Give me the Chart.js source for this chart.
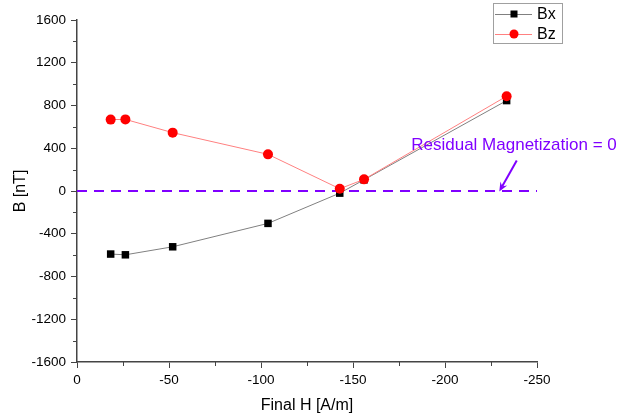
<!DOCTYPE html>
<html>
<head>
<meta charset="utf-8">
<script src="https://cdn.jsdelivr.net/npm/chart.js@4.4.1/dist/chart.umd.min.js"></script>
<style>
  html, body { margin: 0; padding: 0; background: #fff; }
  #wrap { width: 631px; height: 418px; }
</style>
</head>
<body>
<div id="wrap"><canvas id="chart" width="631" height="418"></canvas></div>
<script>
'use strict';

// data
const finalH = [-18.3, -26.3, -52, -103.8, -142.8, -156, -233.5];
const bxValues = [-590, -597, -522, -303, -20, 105, 846];
const bzValues = [668, 670, 546, 343, 21, 109, 887];
const zeroLineH = [0, -250];
const zeroLineB = [0, 0];
const xTicks = [0, -50, -100, -150, -200, -250];
const yTicks = [-1600, -1200, -800, -400, 0, 400, 800, 1200, 1600];

const violet = '#8000ff';
const axisColor = '#444';
const font = 'Liberation Sans, Arial, sans-serif';

function toPoints(xs, ys) {
  return xs.map((x, i) => ({ x: x, y: ys[i] }));
}

// minor ticks, legend box and the annotation
const extras = {
  id: 'extras',
  afterDraw(chart) {
    const ctx = chart.ctx;
    const xs = chart.scales.x;
    const ys = chart.scales.y;
    ctx.save();

    // minor ticks
    ctx.strokeStyle = axisColor;
    ctx.lineWidth = 1;
    ctx.beginPath();
    for (let v = -1400; v <= 1400; v += 400) {
      const py = Math.round(ys.getPixelForValue(v)) + 0.5;
      ctx.moveTo(xs.left - 4, py);
      ctx.lineTo(xs.left, py);
    }
    for (let v = -25; v >= -225; v -= 50) {
      const px = Math.round(xs.getPixelForValue(v)) + 0.5;
      ctx.moveTo(px, ys.bottom);
      ctx.lineTo(px, ys.bottom + 4);
    }
    ctx.stroke();

    // legend
    ctx.strokeStyle = '#a0a0a0';
    ctx.strokeRect(493.5, 3.5, 69, 40);
    const rows = [
      { label: 'Bx', line: '#808080', mark: '#000', square: true, y: 14 },
      { label: 'Bz', line: '#ff8080', mark: '#ff0000', square: false, y: 34 }
    ];
    ctx.font = '16px ' + font;
    ctx.textBaseline = 'middle';
    rows.forEach(r => {
      ctx.strokeStyle = r.line;
      ctx.beginPath();
      ctx.moveTo(495, r.y + 0.5);
      ctx.lineTo(532, r.y + 0.5);
      ctx.stroke();
      ctx.fillStyle = r.mark;
      if (r.square) {
        ctx.fillRect(510.5, r.y - 3.5, 7, 7);
      } else {
        ctx.beginPath();
        ctx.arc(514, r.y, 4.5, 0, Math.PI * 2);
        ctx.fill();
      }
      ctx.fillStyle = '#000';
      ctx.fillText(r.label, 537, r.y + 1);
    });

    // annotation
    ctx.fillStyle = violet;
    ctx.font = '17px ' + font;
    ctx.textAlign = 'center';
    ctx.textBaseline = 'alphabetic';
    ctx.fillText('Residual Magnetization = 0', xs.getPixelForValue(-237.5), ys.getPixelForValue(385));

    const x0 = xs.getPixelForValue(-239), y0 = ys.getPixelForValue(285);
    const x1 = xs.getPixelForValue(-229.5), y1 = ys.getPixelForValue(-5);
    const ang = Math.atan2(y1 - y0, x1 - x0);
    ctx.strokeStyle = violet;
    ctx.lineWidth = 2;
    ctx.beginPath();
    ctx.moveTo(x0, y0);
    ctx.lineTo(x1 - 6 * Math.cos(ang), y1 - 6 * Math.sin(ang));
    ctx.stroke();
    ctx.beginPath();
    ctx.moveTo(x1, y1);
    ctx.lineTo(x1 - 10 * Math.cos(ang - 0.4), y1 - 10 * Math.sin(ang - 0.4));
    ctx.lineTo(x1 - 6 * Math.cos(ang), y1 - 6 * Math.sin(ang));
    ctx.lineTo(x1 - 10 * Math.cos(ang + 0.4), y1 - 10 * Math.sin(ang + 0.4));
    ctx.closePath();
    ctx.fillStyle = violet;
    ctx.fill();

    ctx.restore();
  }
};

new Chart(document.getElementById('chart'), {
  type: 'line',
  data: {
    datasets: [
      {
        label: 'zero',
        data: toPoints(zeroLineH, zeroLineB),
        borderColor: violet,
        borderWidth: 2,
        borderDash: [10, 7],
        pointRadius: 0,
        order: 3
      },
      {
        label: 'Bx',
        data: toPoints(finalH, bxValues),
        borderColor: '#808080',
        borderWidth: 1,
        pointStyle: 'rect',
        pointRadius: 5.3,
        pointBackgroundColor: '#000',
        pointBorderColor: '#000',
        pointBorderWidth: 0,
        order: 2
      },
      {
        label: 'Bz',
        data: toPoints(finalH, bzValues),
        borderColor: '#ff8080',
        borderWidth: 1,
        pointStyle: 'circle',
        pointRadius: 5,
        pointBackgroundColor: '#ff0000',
        pointBorderColor: '#ff0000',
        pointBorderWidth: 0,
        order: 1
      }
    ]
  },
  options: {
    responsive: false,
    animation: false,
    layout: { padding: { top: 20, right: 94, left: 0, bottom: 0 } },
    plugins: {
      legend: { display: false },
      tooltip: { enabled: false }
    },
    scales: {
      x: {
        type: 'linear',
        min: -250,
        max: 0,
        reverse: true,
        afterFit: s => { s.height = 56; },
        afterBuildTicks: s => { s.ticks = xTicks.map(v => ({ value: v })); },
        grid: { drawOnChartArea: false, tickLength: 6, color: axisColor, tickColor: axisColor },
        border: { color: axisColor, width: 1.5 },
        ticks: {
          color: '#000',
          padding: 4,
          maxRotation: 0,
          font: { family: font, size: 13.5 },
          callback: v => String(v)
        },
        title: {
          display: true,
          text: 'Final H [A/m]',
          color: '#000',
          font: { family: font, size: 16 },
          padding: { top: 0, bottom: 3 }
        }
      },
      y: {
        type: 'linear',
        min: -1600,
        max: 1600,
        afterFit: s => { s.width = 77; },
        afterBuildTicks: s => { s.ticks = yTicks.map(v => ({ value: v })); },
        grid: { drawOnChartArea: false, tickLength: 6, color: axisColor, tickColor: axisColor },
        border: { color: axisColor, width: 1.5 },
        ticks: {
          color: '#000',
          padding: 5,
          font: { family: font, size: 13.5 },
          callback: v => String(v)
        },
        title: {
          display: true,
          text: 'B [nT]',
          color: '#000',
          font: { family: font, size: 16 },
          padding: { top: 11, bottom: 0 }
        }
      }
    }
  },
  plugins: [extras]
});
</script>
</body>
</html>
